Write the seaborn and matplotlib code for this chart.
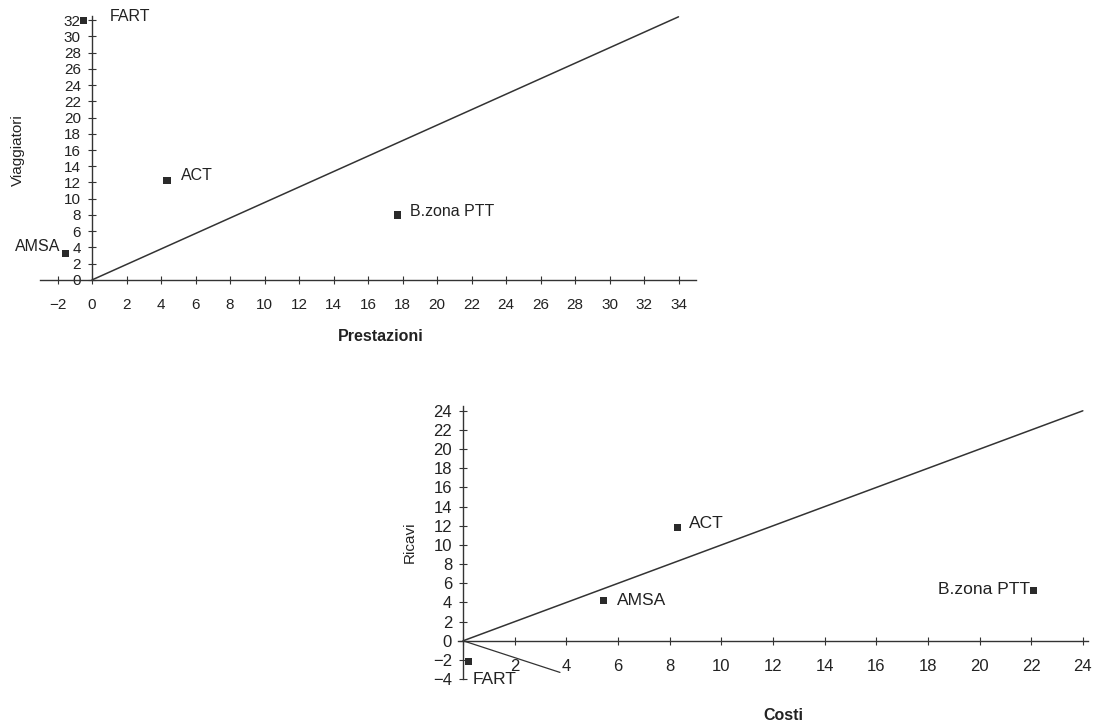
import numpy as np
import pandas as pd
import seaborn as sns
import matplotlib.pyplot as plt

# data
aziende = ['FART', 'ACT', 'B.zona PTT', 'AMSA']

prestazioni = [-0.5, 4.35, 17.7, -1.55]
viaggiatori = [32.0, 12.2, 8.0, 3.2]

costi = [0.2, 8.3, 22.1, 5.45]
ricavi = [-2.2, 11.8, 5.2, 4.2]

# reference lines (bisector of each panel) and the stray leader line
top_line_x = [0, 34]
top_line_y = [0, 32.4]
bottom_line_x = [0, 24]
bottom_line_y = [0, 24]
leader_x = [0, 3.75]
leader_y = [0, -3.3]

top_xticks = list(range(-2, 35, 2))
top_yticks = list(range(0, 33, 2))
bottom_xticks = list(range(0, 25, 2))
bottom_yticks = list(range(-4, 25, 2))

# label offsets in pixels (text placement only)
top_offsets = {'FART': (26, 4, 'left'), 'ACT': (14, 5, 'left'),
               'B.zona PTT': (13, 3, 'left'), 'AMSA': (-5, 7, 'right')}
bottom_offsets = {'FART': (4, -18, 'left'), 'ACT': (12, 4, 'left'),
                  'B.zona PTT': (-4, 1, 'right'), 'AMSA': (13, 0, 'left')}

sns.set_theme(style='white')
plt.rcParams['font.family'] = ['Liberation Sans', 'DejaVu Sans']

W, H = 1102, 725
fig = plt.figure(figsize=(W / 100, H / 100), dpi=100)


def px_axes(x0, y0, x1, y1):
    # axes box given in pixel coords (top-left origin)
    return fig.add_axes([x0 / W, 1 - y1 / H, (x1 - x0) / W, (y1 - y0) / H])


def fmt(t):
    return str(t).replace('-', '\u2212')


def style_axes(ax, xticks, yticks, xlabels, fs, xpad):
    for s in ['top', 'right']:
        ax.spines[s].set_visible(False)
    ax.spines['left'].set_position(('data', 0))
    ax.spines['bottom'].set_position(('data', 0))
    for s in ['left', 'bottom']:
        ax.spines[s].set_color('#333333')
        ax.spines[s].set_linewidth(1.0)
    ax.set_xticks(xticks)
    ax.set_xticklabels(xlabels)
    ax.set_yticks(yticks)
    ax.set_yticklabels([fmt(t) for t in yticks])
    ax.tick_params(axis='both', direction='inout', length=6, width=0.8,
                   color='#333333', labelsize=fs, labelcolor='#222222',
                   bottom=True, left=True)
    ax.tick_params(axis='x', pad=xpad)
    ax.tick_params(axis='y', pad=5)
    ax.set_xlabel('')
    ax.set_ylabel('')
    ax.patch.set_alpha(0)


# ---------- top panel: Prestazioni / Viaggiatori ----------
df_top = pd.DataFrame({'azienda': aziende, 'x': prestazioni, 'y': viaggiatori})
ax1 = px_axes(40.25, 16.0, 695.75, 284.0)
ax1.set_xlim(-3, 35)
ax1.set_ylim(-0.5, 32.5)
ax1.plot(top_line_x, top_line_y, color='#333333', lw=1.1)
sns.scatterplot(data=df_top, x='x', y='y', marker='s', s=26, color='#2a2a2a',
                edgecolor='none', ax=ax1, clip_on=False, zorder=5)
style_axes(ax1, top_xticks, top_yticks, [fmt(t) for t in top_xticks], 11, 10)
ax1.spines['left'].set_bounds(0, 32.5)
for _, r in df_top.iterrows():
    dx, dy, ha = top_offsets[r['azienda']]
    ax1.annotate(r['azienda'], (r['x'], r['y']), xytext=(dx, dy),
                 textcoords='offset pixels', ha=ha, va='center', fontsize=11.5,
                 color='#222222')

fig.text(18 / W, 1 - 150 / H, 'Viaggiatori', rotation=90, ha='center',
         va='center', fontsize=11, color='#222222')
fig.text(381 / W, 1 - 336 / H, 'Prestazioni', ha='center', va='center',
         fontsize=11.5, fontweight='bold', color='#222222')

# ---------- bottom panel: Costi / Ricavi ----------
df_bot = pd.DataFrame({'azienda': aziende, 'x': costi, 'y': ricavi})
ax2 = px_axes(458.0, 406.0, 1088.0, 682.0)
ax2.set_xlim(-0.2, 24.2)
ax2.set_ylim(-4.3, 24.5)
ax2.plot(bottom_line_x, bottom_line_y, color='#333333', lw=1.1)
ax2.plot(leader_x, leader_y, color='#333333', lw=0.9)
sns.scatterplot(data=df_bot, x='x', y='y', marker='s', s=26, color='#2a2a2a',
                edgecolor='none', ax=ax2, clip_on=False, zorder=5)
style_axes(ax2, bottom_xticks, bottom_yticks,
           ['' if t == 0 else fmt(t) for t in bottom_xticks], 12, 10)
ax2.spines['left'].set_bounds(-4, 24.5)
for _, r in df_bot.iterrows():
    dx, dy, ha = bottom_offsets[r['azienda']]
    ax2.annotate(r['azienda'], (r['x'], r['y']), xytext=(dx, dy),
                 textcoords='offset pixels', ha=ha, va='center', fontsize=12.5,
                 color='#222222')

fig.text(410 / W, 1 - 542 / H, 'Ricavi', rotation=90, ha='center',
         va='center', fontsize=11, color='#222222')
fig.text(783 / W, 1 - 716 / H, 'Costi', ha='center', va='center',
         fontsize=11.5, fontweight='bold', color='#222222')

fig.savefig('out.png', dpi=100, facecolor='white')
